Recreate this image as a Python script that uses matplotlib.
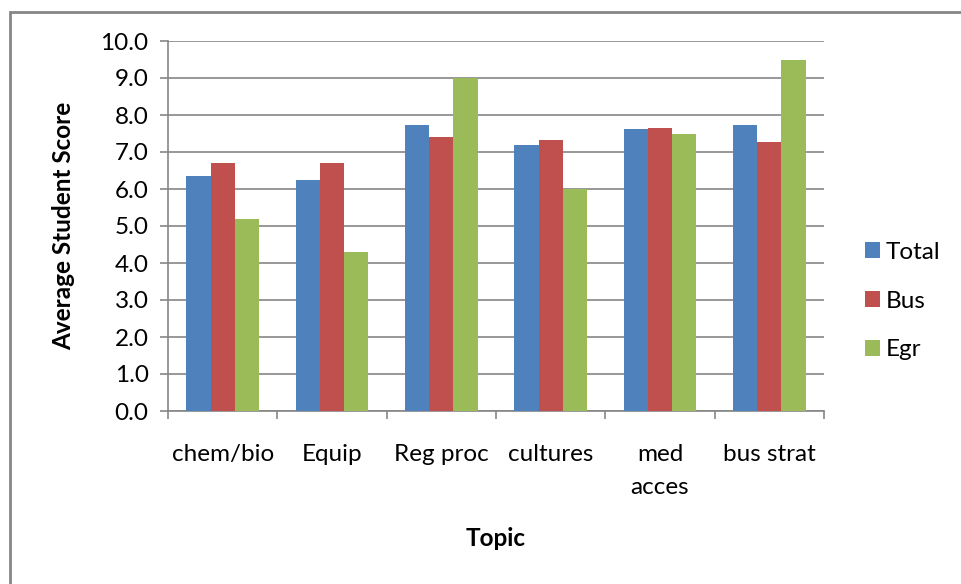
import matplotlib
matplotlib.use("Agg")
import matplotlib.pyplot as plt
from matplotlib.patches import Rectangle
from matplotlib.ticker import FixedLocator, NullFormatter
import numpy as np

plt.rcParams['font.family'] = ['Lato', 'DejaVu Sans']

topics = ["chem/bio", "Equip", "Reg proc", "cultures", "med\nacces", "bus strat"]
total = [6.35, 6.25, 7.72, 7.20, 7.63, 7.72]
bus = [6.70, 6.70, 7.40, 7.32, 7.65, 7.28]
egr = [5.20, 4.30, 9.00, 6.00, 7.50, 9.50]
series_names = ["Total", "Bus", "Egr"]
colors = ["#4F81BD", "#C0504D", "#9BBB59"]
yticks = [0, 1, 2, 3, 4, 5, 6, 7, 8, 9, 10]

W, H = 961, 584
FS = 17.5
fig = plt.figure(figsize=(W / 100, H / 100), dpi=100)
ax = fig.add_axes([168 / W, 1 - 411 / H, (824 - 168) / W, (411 - 41) / H])

x = np.arange(len(topics))
bw = 0.222
for i, (vals, name, c) in enumerate(zip([total, bus, egr], series_names, colors)):
    ax.bar(x + (i - 1) * bw, vals, width=bw, color=c, label=name,
           edgecolor="none", zorder=3)

grid_c = "#868686"
ax.set_xlim(-0.5, len(topics) - 0.5)
ax.set_ylim(0, 10)
ax.set_yticks(yticks)
ax.set_yticklabels([f"{v:.1f}" for v in yticks])
ax.yaxis.grid(True, color=grid_c, linewidth=1.2, zorder=0)
ax.set_axisbelow(True)

ax.set_xticks(x)
ax.set_xticklabels(topics, linespacing=1.7)
ax.xaxis.set_minor_locator(FixedLocator(np.arange(-0.5, len(topics), 1.0)))
ax.xaxis.set_minor_formatter(NullFormatter())
ax.tick_params(axis="x", which="major", length=0, pad=23.5, labelsize=FS)
ax.tick_params(axis="x", which="minor", length=6, width=1.2, color=grid_c)
ax.tick_params(axis="y", length=6, width=1.2, color=grid_c, labelsize=FS, pad=8)

for s in ["top", "right"]:
    ax.spines[s].set_visible(False)
for s in ["left", "bottom"]:
    ax.spines[s].set_color(grid_c)
    ax.spines[s].set_linewidth(1.2)

ax.set_xlabel("Topic", fontsize=FS, fontweight="bold", labelpad=21)
ax.set_ylabel("Average Student Score", fontsize=FS, fontweight="bold", labelpad=18)

leg = ax.legend(loc="center left", bbox_to_anchor=(843 / W, 1 - 301 / H),
                bbox_transform=fig.transFigure, frameon=False, fontsize=FS,
                handlelength=0.62, handleheight=0.62, handletextpad=0.22,
                labelspacing=1.15)

# outer chart border
fig.patches.append(Rectangle((10 / W, -0.05), 1.1, 1 - 12 / H + 0.05,
                             transform=fig.transFigure, fill=False,
                             edgecolor=grid_c, linewidth=2.0))

fig.savefig("out.png", dpi=100)
